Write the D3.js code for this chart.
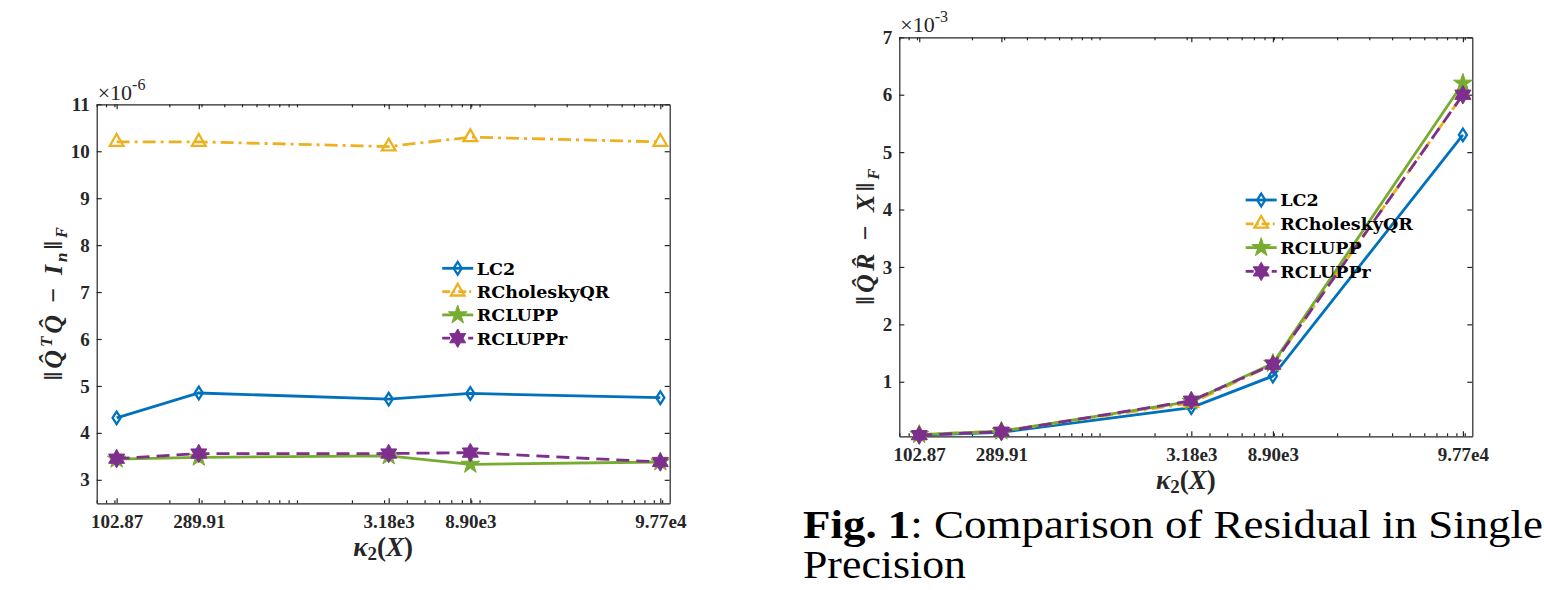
<!DOCTYPE html>
<html>
<head>
<meta charset="utf-8">
<script src="https://cdn.jsdelivr.net/npm/d3@7"></script>
<style>
  body { margin: 0; background: #fff; }
  svg { display: block; }
  .tick text { font-family: "Liberation Serif", "Times New Roman", serif; font-weight: bold; font-size: 19px; fill: #262626; }
  .tick line, .domain { stroke: #262626; stroke-width: 1.2; }
  .legend text { font-family: "DejaVu Serif", serif; font-weight: bold; font-size: 17.5px; fill: #000; }
  .mathlabel { font-family: "Liberation Serif", "Times New Roman", serif; font-weight: bold; fill: #262626; }
  .caption { font-family: "Liberation Serif", "Times New Roman", serif; fill: #000; }
  .expo { font-family: "Liberation Serif", "Times New Roman", serif; fill: #262626; }
</style>
</head>
<body>
<svg id="fig" width="1544" height="590"></svg>
<script>

// condition numbers on the x axis (log scale) and their labels
var kappaValues = [102.87, 289.91, 3180, 8900, 97700];
var kappaLabels = ["102.87", "289.91", "3.18e3", "8.90e3", "9.77e4"];
var seriesNames = ["LC2", "RCholeskyQR", "RCLUPP", "RCLUPPr"];

// orthogonality ||Q^T Q - I||_F, units of 1e-6
var orthoLC2 = [4.32, 4.85, 4.72, 4.84, 4.75];
var orthoRChol = [10.2, 10.2, 10.1, 10.3, 10.2];
var orthoRCLUPP = [3.44, 3.48, 3.51, 3.33, 3.38];
var orthoRCLUPPr = [3.45, 3.56, 3.56, 3.58, 3.38];
var orthoTicks = [3, 4, 5, 6, 7, 8, 9, 10, 11];

// residual ||QR - X||_F, units of 1e-3
var resLC2 = [0.07, 0.12, 0.55, 1.10, 5.30];
var resRChol = [0.08, 0.14, 0.63, 1.30, 6.00];
var resRCLUPP = [0.08, 0.14, 0.66, 1.32, 6.20];
var resRCLUPPr = [0.07, 0.13, 0.67, 1.30, 6.00];
var resTicks = [1, 2, 3, 4, 5, 6, 7];

var svg = d3.select("#fig");
var W = 573, H = 399;
var xDomain = [80, 1.1e5];

// custom marker shapes
var symbolTallDiamond = {
    draw: function(ctx, size) {
        var r = Math.sqrt(size);
        ctx.moveTo(0, -r);
        ctx.lineTo(r * 0.64, 0);
        ctx.lineTo(0, r);
        ctx.lineTo(-r * 0.64, 0);
        ctx.closePath();
    }
};
var symbolHexagram = {
    draw: function(ctx, size) {
        var r = Math.sqrt(size), ri = r / Math.sqrt(3);
        for (var k = 0; k < 12; k++) {
            var a = (-90 + k * 30) * Math.PI / 180;
            var rr = k % 2 == 0 ? r : ri;
            if (k == 0) ctx.moveTo(rr * Math.cos(a), rr * Math.sin(a));
            else ctx.lineTo(rr * Math.cos(a), rr * Math.sin(a));
        }
        ctx.closePath();
    }
};

var styles = [
    {color: "#0072BD", dash: null, symbol: symbolTallDiamond, size: 40, fill: "none", sw: 2.3},
    {color: "#EDB120", dash: "13,5,3,5", symbol: d3.symbolTriangle, size: 80, fill: "none", sw: 2.3},
    {color: "#77AC30", dash: null, symbol: d3.symbolStar, size: 110, fill: "#77AC30", sw: 1},
    {color: "#7E2F8E", dash: "13,7", symbol: symbolHexagram, size: 85, fill: "#7E2F8E", sw: 1}
];

function addMarker(sel, st) {
    sel.attr("d", d3.symbol().type(st.symbol).size(st.size))
        .attr("fill", st.fill)
        .attr("stroke", st.color)
        .attr("stroke-width", st.sw)
        .attr("stroke-linejoin", "miter");
}

// math text from pieces: [text, {italic, dy, size}]
function mathText(sel, pieces, size) {
    pieces.forEach(p => {
        var o = p[1] || {};
        sel.append("tspan")
            .style("font-style", o.italic ? "italic" : "normal")
            .style("font-size", (o.size || size) + "px")
            .attr("dy", o.dy || 0)
            .text(p[0]);
    });
}

/*
 *  Draw one panel
 */
function drawPanel(cfg) {
    var g = svg.append("g").attr("transform", "translate(" + cfg.left + "," + cfg.top + ")");

    var x = d3.scaleLog().domain(xDomain).range([0, W]);
    var y = d3.scaleLinear().domain(cfg.yDomain).range([H, 0]);

    // minor log ticks, top and bottom
    var minor = x.ticks();
    g.append("g").attr("transform", "translate(0," + H + ")")
        .call(d3.axisBottom(x).tickValues(minor).tickSize(-3).tickFormat(""))
        .call(a => a.select(".domain").remove());
    g.append("g")
        .call(d3.axisTop(x).tickValues(minor).tickSize(-3).tickFormat(""))
        .call(a => a.select(".domain").remove());

    // major axes
    g.append("g").attr("class", "x-axis").attr("transform", "translate(0," + H + ")")
        .call(d3.axisBottom(x).tickValues(kappaValues)
            .tickFormat((d, i) => kappaLabels[i])
            .tickSizeInner(-5).tickSizeOuter(0).tickPadding(11));
    g.append("g")
        .call(d3.axisTop(x).tickValues(kappaValues).tickFormat("")
            .tickSizeInner(-5).tickSizeOuter(0));
    g.append("g").attr("class", "y-axis")
        .call(d3.axisLeft(y).tickValues(cfg.yTicks).tickFormat(d3.format("d"))
            .tickSizeInner(-5).tickSizeOuter(0).tickPadding(7));
    g.append("g").attr("transform", "translate(" + W + ",0)")
        .call(d3.axisRight(y).tickValues(cfg.yTicks).tickFormat("")
            .tickSizeInner(-5).tickSizeOuter(0));

    // series
    var line = d3.line()
        .x((d, i) => x(kappaValues[i]))
        .y(d => y(d));

    cfg.series.forEach((vals, s) => {
        var st = styles[s];
        g.append("path")
            .datum(vals)
            .attr("fill", "none")
            .attr("stroke", st.color)
            .attr("stroke-width", 2.8)
            .attr("stroke-dasharray", st.dash)
            .attr("d", line);
        g.selectAll(".m" + s)
            .data(vals)
            .enter()
            .append("path")
            .attr("class", "m" + s)
            .attr("transform", (d, i) => "translate(" + x(kappaValues[i]) + "," + y(d) + ")")
            .call(addMarker, st);
    });

    // legend
    var leg = g.append("g").attr("class", "legend")
        .attr("transform", "translate(" + cfg.legendX + "," + cfg.legendY + ")");
    seriesNames.forEach((name, s) => {
        var st = styles[s];
        var row = leg.append("g").attr("transform", "translate(0," + (s * cfg.legendStep) + ")");
        row.append("line")
            .attr("x1", 0).attr("x2", 31)
            .attr("stroke", st.color)
            .attr("stroke-width", 2.8)
            .attr("stroke-dasharray", st.dash ? (s == 3 ? "8,5" : "8,3,2,3") : null);
        row.append("path")
            .attr("transform", "translate(15.5,0)")
            .call(addMarker, st);
        row.append("text")
            .attr("x", 34.5)
            .attr("dy", "0.36em")
            .text(name);
    });

    // exponent multiplier
    var ex = g.append("text").attr("class", "expo")
        .attr("x", 1).attr("y", cfg.expY);
    ex.append("tspan").style("font-size", "22px").text("\u00d710");
    ex.append("tspan").style("font-size", "16px").attr("dy", -10).text(cfg.expText);

    // x label
    var xl = g.append("text").attr("class", "mathlabel")
        .attr("x", W / 2).attr("y", H + 53)
        .attr("text-anchor", "middle");
    mathText(xl, [["\u03ba", {italic: true}], ["2", {dy: 4, size: 19}], ["(", {dy: -4}], ["X", {italic: true}], [")"]], 27);

    // y label
    var yl = g.append("text").attr("class", "mathlabel")
        .attr("transform", "translate(" + cfg.ylabelX + "," + (H / 2) + ") rotate(-90)")
        .attr("text-anchor", "middle")
        .attr("textLength", cfg.ylabelLength)
        .attr("lengthAdjust", "spacing");
    mathText(yl, cfg.ylabel, 26);
}

drawPanel({
    left: 96.7, top: 104.3,
    yDomain: [2.5, 11], yTicks: orthoTicks,
    series: [orthoLC2, orthoRChol, orthoRCLUPP, orthoRCLUPPr],
    legendX: 345.5, legendY: 164, legendStep: 23.3,
    expY: -4.5, expText: "-6",
    ylabelX: -35, ylabelLength: 153,
    ylabel: [["\u2016"], ["Q\u0302", {italic: true}], ["T", {italic: true, dy: -10, size: 17}],
        ["Q\u0302", {italic: true, dy: 10}], [" \u2212 "], ["I", {italic: true}],
        ["n", {italic: true, dy: 5, size: 17}], ["\u2016", {dy: -5}], ["F", {italic: true, dy: 5, size: 16}]]
});

drawPanel({
    left: 899.3, top: 37.3,
    yDomain: [0.05, 7], yTicks: resTicks,
    series: [resLC2, resRChol, resRCLUPP, resRCLUPPr],
    legendX: 346.4, legendY: 162.7, legendStep: 23.8,
    expY: -5, expText: "-3",
    ylabelX: -25, ylabelLength: 136,
    ylabel: [["\u2016"], ["Q\u0302", {italic: true}], ["R\u0302", {italic: true}],
        [" \u2212 "], ["X", {italic: true}],
        ["\u2016"], ["F", {italic: true, dy: 5, size: 16}]]
});

// figure caption
var cap = svg.append("text").attr("class", "caption")
    .attr("x", 803).attr("y", 538)
    .style("font-size", "39px")
    .attr("textLength", 740)
    .attr("lengthAdjust", "spacingAndGlyphs");
cap.append("tspan").style("font-weight", "bold").text("Fig. 1");
cap.append("tspan").text(": Comparison of Residual in Single");

svg.append("text").attr("class", "caption")
    .attr("x", 803).attr("y", 578)
    .style("font-size", "39px")
    .attr("textLength", 163)
    .attr("lengthAdjust", "spacingAndGlyphs")
    .text("Precision");

</script>
</body>
</html>
